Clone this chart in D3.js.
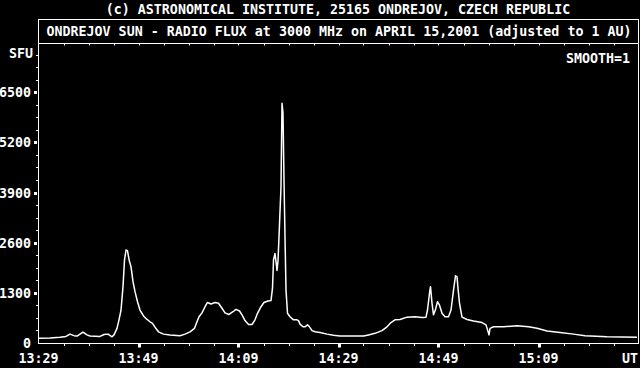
<!DOCTYPE html>
<html>
<head>
<meta charset="utf-8">
<script src="https://cdn.jsdelivr.net/npm/d3@7"></script>
<style>
    html, body { margin: 0; padding: 0; background: #000; }
    #chart { width: 640px; height: 368px; }
    text { font-family: "DejaVu Sans Mono", "Liberation Mono", monospace; font-weight: bold; font-size: 13.3px; fill: #fff; }
</style>
</head>
<body>
<div id="chart"></div>
<script>
// chart data: minutes after 13:29 UT and flux in SFU
const minutes = [0, 2.3, 4.3, 5.5, 6.3, 7.1, 7.7, 8.3, 8.9, 9.7, 10.3, 12.3, 13.1, 13.9, 14.7, 15.1, 15.7, 16.1, 16.5, 16.9,
    17.2, 17.5, 17.8, 18.0, 18.2, 18.5, 18.9, 19.3, 19.8, 20.3, 21.0, 21.7, 22.3, 22.8, 23.3, 24.0, 25.0, 26.3, 28.3, 29.3,
    30.3, 31.2, 31.7, 32.1, 32.7, 33.3, 33.8, 34.5, 35.3, 36.0, 36.7, 37.3, 38.1, 38.9, 39.5, 40.2, 40.7, 41.3, 42.0, 42.7,
    43.3, 43.8, 44.5, 45.1, 45.9, 46.5, 46.8, 47.0, 47.3, 47.5, 47.7, 47.9, 48.1, 48.5, 48.7, 48.9, 49.1, 49.3, 49.5, 49.8,
    50.3, 51.0, 51.7, 52.0, 52.3, 52.9, 53.3, 53.8, 54.2, 54.7, 55.3, 56.3, 57.7, 59.0, 60.3, 62.3, 65.0, 66.0, 67.3, 68.7,
    69.7, 70.5, 71.3, 72.3, 73.7, 75.3, 76.7, 77.5, 77.8, 78.2, 78.4, 78.7, 79.0, 79.4, 79.8, 80.2, 80.7, 81.3, 82.0, 82.5,
    83.0, 83.4, 83.7, 83.9, 84.2, 84.7, 85.7, 87.0, 88.7, 89.5, 89.8, 90.1, 90.3, 91.0, 93.0, 95.7, 98.0, 99.7, 101.7, 104.3,
    107.0, 109.3, 113.7, 119.7];
const sfu = [120, 130, 150, 170, 230, 190, 180, 230, 280, 210, 180, 170, 220, 230, 160, 210, 380, 600, 850, 1460,
    2150, 2410, 2390, 2240, 2110, 1980, 1590, 1330, 1070, 855, 700, 610, 550, 510, 410, 290, 230, 210, 190, 230,
    290, 380, 550, 680, 780, 940, 1050, 1010, 1050, 1030, 900, 780, 740, 810, 870, 830, 730, 580, 480, 480,
    600, 770, 940, 1050, 1090, 1100, 1420, 2150, 2320, 2110, 1880, 2130, 2750, 4050, 6210, 5950, 4220, 2750, 1370, 770,
    680, 600, 600, 580, 490, 420, 420, 470, 420, 320, 290, 270, 230, 200, 180, 180, 180, 210, 250, 320,
    420, 530, 600, 610, 670, 680, 660, 670, 855, 1290, 1460, 1030, 730, 870, 1070, 980, 770, 680, 680, 855,
    1370, 1740, 1720, 1420, 1030, 670, 610, 570, 530, 470, 340, 210, 380, 420, 420, 450, 420, 380, 310, 270,
    230, 190, 160, 150];

// axis labels
const timeLabels = ['13:29', '13:49', '14:09', '14:29', '14:49', '15:09'];
const fluxTicks = [0, 1300, 2600, 3900, 5200, 6500];
const titleTop = '(c) ASTRONOMICAL INSTITUTE, 25165 ONDREJOV, CZECH REPUBLIC';
const titleBox = 'ONDREJOV SUN - RADIO FLUX at 3000 MHz on APRIL 15,2001 (adjusted to 1 AU)';

const root = document.getElementById('chart');
const W = 640, H = 368;
const margin = {t: 43, r: 1.5, b: 25, l: 38.5};

const svg = d3.select(root)
    .append('svg')
    .attr('width', W)
    .attr('height', H);

svg.append('rect')
    .attr('width', W)
    .attr('height', H)
    .attr('fill', '#000');

// scales
const scaleX = d3.scaleLinear()
    .domain([0, 120])
    .range([margin.l, W - margin.r]);
const scaleY = d3.scaleLinear()
    .domain([0, 7800])
    .range([H - margin.b, margin.t - 1]);

const axisBottom = H - margin.b + 0.5;

// frame around title box and plot
svg.append('rect')
    .attr('x', margin.l)
    .attr('y', 19.5)
    .attr('width', W - margin.r - margin.l)
    .attr('height', axisBottom - 19.5)
    .attr('fill', 'none')
    .attr('stroke', '#fff')
    .attr('stroke-width', 1)
    .attr('shape-rendering', 'crispEdges');
svg.append('line')
    .attr('x1', margin.l).attr('x2', W - margin.r)
    .attr('y1', 43.5).attr('y2', 43.5)
    .attr('stroke', '#fff')
    .attr('shape-rendering', 'crispEdges');

// titles
svg.append('text')
    .attr('x', 338)
    .attr('y', 13.5)
    .attr('text-anchor', 'middle')
    .text(titleTop);
svg.append('text')
    .attr('x', 339)
    .attr('y', 36)
    .attr('text-anchor', 'middle')
    .attr('textLength', 585)
    .attr('lengthAdjust', 'spacing')
    .text(titleBox);
svg.append('text')
    .attr('x', 630)
    .attr('y', 63)
    .attr('text-anchor', 'end')
    .text('SMOOTH=1');
svg.append('text')
    .attr('x', 33)
    .attr('y', 57.5)
    .attr('text-anchor', 'end')
    .text('SFU');

// x ticks: minor every 5 min, major every 20 min
const minorX = d3.range(5, 120, 5);
svg.selectAll('.tick-bottom')
    .data(minorX)
    .enter()
    .append('rect')
    .attr('class', 'tick-bottom')
    .attr('x', d => d % 20 === 0 ? Math.round(scaleX(d)) - 1 : Math.round(scaleX(d)))
    .attr('y', axisBottom)
    .attr('width', d => d % 20 === 0 ? 3 : 1)
    .attr('height', d => d % 20 === 0 ? 4 : 2.5)
    .attr('fill', '#fff');
svg.selectAll('.tick-top')
    .data(minorX)
    .enter()
    .append('rect')
    .attr('class', 'tick-top')
    .attr('x', d => Math.round(scaleX(d)))
    .attr('y', 44)
    .attr('width', 1)
    .attr('height', 1.5)
    .attr('fill', '#fff');

svg.selectAll('.label-x')
    .data(timeLabels)
    .enter()
    .append('text')
    .attr('class', 'label-x')
    .attr('x', (d, i) => scaleX(i * 20))
    .attr('y', 363)
    .attr('text-anchor', 'middle')
    .text(d => d);
svg.append('text')
    .attr('x', 630)
    .attr('y', 363)
    .attr('text-anchor', 'middle')
    .text('UT');

// y ticks: minor every 325, major every 1300
const minorY = d3.range(325, 7800, 325).filter(d => d % 1300 !== 0);
svg.selectAll('.tick-minor-y')
    .data(minorY)
    .enter()
    .append('rect')
    .attr('class', 'tick-minor-y')
    .attr('x', margin.l - 2.5)
    .attr('y', d => Math.round(scaleY(d)))
    .attr('width', 2)
    .attr('height', 1)
    .attr('fill', '#fff');
svg.selectAll('.tick-major-y')
    .data(fluxTicks.slice(1))
    .enter()
    .append('rect')
    .attr('class', 'tick-major-y')
    .attr('x', margin.l - 4.5)
    .attr('y', d => Math.round(scaleY(d)) - 1)
    .attr('width', 3)
    .attr('height', 3)
    .attr('fill', '#fff');
svg.selectAll('.label-y')
    .data(fluxTicks)
    .enter()
    .append('text')
    .attr('class', 'label-y')
    .attr('x', 31)
    .attr('y', d => scaleY(d) + 5)
    .attr('text-anchor', 'end')
    .text(d => d);

// flux curve
const points = minutes.map((m, i) => [m, sfu[i]]);
const line = d3.line()
    .x(d => scaleX(d[0]))
    .y(d => scaleY(d[1]));
svg.append('path')
    .datum(points)
    .attr('d', line)
    .attr('fill', 'none')
    .attr('stroke', '#fff')
    .attr('stroke-width', 1.5)
    .attr('stroke-linejoin', 'round');
</script>
</body>
</html>
